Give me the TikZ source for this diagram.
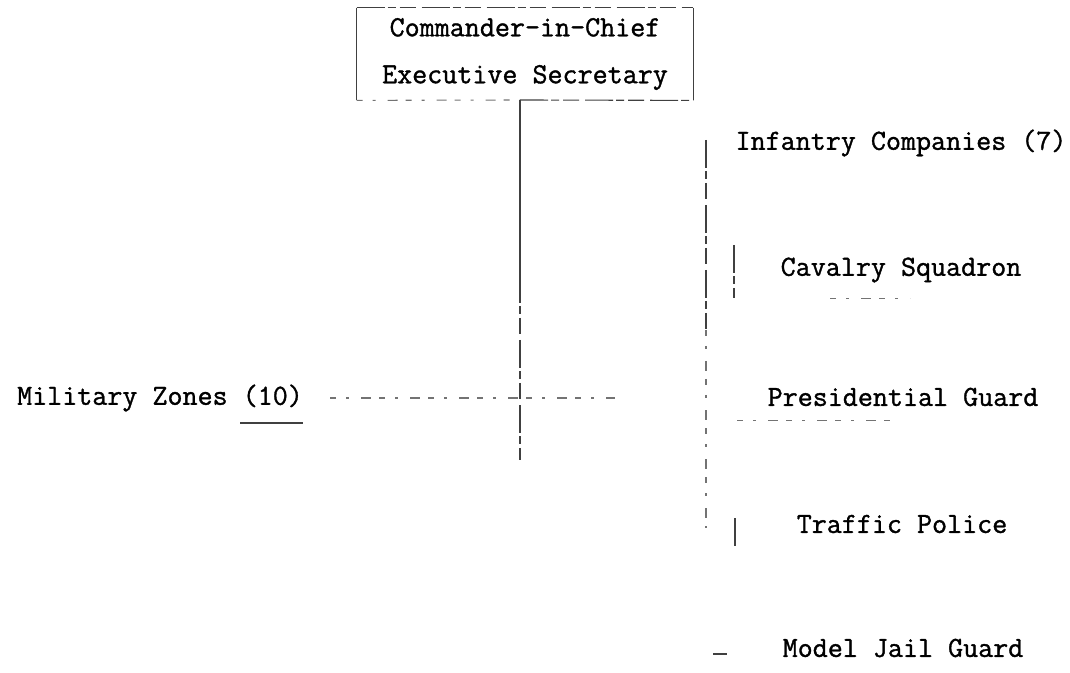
\documentclass[tikz,border=0pt]{standalone}
\usepackage{fontspec}
\newfontfamily\typer{Latin Modern Mono}[RawFeature={embolden=1.2}]
\usetikzlibrary{positioning}
\tikzset{
  unit/.style={font=\typer\fontsize{14.6}{23.5}\selectfont, inner sep=0pt, text=black},
  chief/.style={unit, minimum width=168pt, minimum height=46pt, align=center},
  wire/.style={line width=0.55pt, black!75},
  wornwire/.style={wire, dash pattern=on 14pt off 1.5pt on 4pt off 2pt on 8pt off 3pt},
  dotwire/.style={wire, black!55, dash pattern=on 3pt off 5pt on 1.5pt off 6pt on 5pt off 4pt},
}
\begin{document}
\begin{tikzpicture}[x=0.5pt,y=-0.5pt]
  \useasboundingbox (0,0) rectangle (1070,673);
  \node[chief] (cinc) at (525,54) {Commander-in-Chief\\Executive Secretary};
  \node[unit] (zones) at (160,398) {Military Zones (10)};
  \node[unit] (infantry) at (901,143) {Infantry Companies (7)};
  \node[unit] (cavalry) at (901,270) {Cavalry Squadron};
  \node[unit] (presguard) at (903,397) {Presidential Guard};
  \node[unit] (traffic) at (902,524) {Traffic Police};
  \node[unit] (jail) at (903,648) {Model Jail Guard};
  \coordinate (trunktop) at (520,100);
  \coordinate (trunkmid) at (520,275);
  \coordinate (trunkbot) at (520,460);
  \coordinate (zl) at (330,398);
  \coordinate (zr) at (615,398);
  \coordinate (bustop) at (706,140);
  \coordinate (busmid) at (706,330);
  \coordinate (busbot) at (706,528);
  \coordinate (cavtop) at (734,245);
  \coordinate (cavbot) at (734,298);
  \coordinate (traftop) at (735,518);
  \coordinate (trafbot) at (735,548);
  \coordinate (jailtick) at (713,654);
  \coordinate (zoneline) at (240,423);
  \begin{scope}[wire]
    \draw (cinc.north west) to (cinc.south west);
    \draw (cinc.north east) to (cinc.south east);
    \draw[wornwire] (cinc.north west) to (cinc.north east);
    \draw[dotwire] (cinc.south west) to (trunktop);
    \draw[wornwire] (trunktop) to (cinc.south east);
    \draw[line width=0.8pt] (trunktop) to (trunkmid);
    \draw[wornwire] (trunkmid) to (trunkbot);
    \draw[dotwire] (zl) to (zr);
    \draw[wornwire] (bustop) to (busmid);
    \draw[dotwire] (busmid) to (busbot);
    \draw[wornwire] (cavtop) to (cavbot);
    \draw[wornwire] (traftop) to (trafbot);
    \draw[line width=1.2pt] (jailtick) to ++(14,0);
    \draw[line width=1pt] (zoneline) to (zones.south east |- zoneline);
    \draw[dotwire] (presguard.south west) ++(-30,14) to ++(155,0);
    \draw[dotwire] (cavalry.south west) ++(50,16) to ++(80,0);
  \end{scope}
\end{tikzpicture}
\end{document}
